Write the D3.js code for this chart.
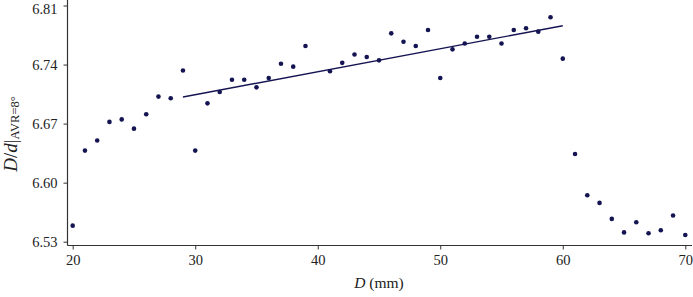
<!DOCTYPE html>
<html><head><meta charset="utf-8">
<script src="https://cdn.jsdelivr.net/npm/d3@7"></script>
<style>
body{margin:0;background:#fff;}
svg text{font-family:"Liberation Serif","Times New Roman",serif;fill:#222;}
</style></head>
<body>
<svg id="c" width="693" height="297"></svg>
<script>
const xValues = [20,21,22,23,24,25,26,27,28,29,30,31,32,33,34,35,36,37,38,39,41,42,43,44,45,46,47,48,49,50,51,52,53,54,55,56,57,58,59,60,61,62,63,64,65,66,67,68,69,70];
const yValues = [6.549,6.638,6.650,6.672,6.675,6.664,6.681,6.702,6.700,6.733,6.638,6.694,6.7075,6.722,6.722,6.713,6.724,6.741,6.7375,6.762,6.732,6.742,6.752,6.749,6.745,6.777,6.767,6.762,6.781,6.724,6.758,6.765,6.773,6.773,6.765,6.781,6.783,6.779,6.796,6.747,6.634,6.585,6.576,6.557,6.541,6.553,6.540,6.5435,6.561,6.538];
const fitX = [29, 60];
const fitY = [6.7015, 6.786];
const xTicks = [20,30,40,50,60,70];
const yTicks = [6.53,6.60,6.67,6.74,6.81];

const svg = d3.select("#c");
const x = d3.scaleLinear().domain([20,70]).range([72.7,685.3]);
const y = d3.scaleLinear().domain([6.53,6.81]).range([241.7,5.5]);
const axX0 = 67.5, axY0 = 245.5;
const col = "#141452";

// axes
const gy = svg.append("g").attr("transform",`translate(${axX0},0)`)
  .call(d3.axisLeft(y).tickValues(yTicks).tickFormat(d3.format(".2f")).tickSize(4).tickPadding(6));
gy.select(".domain").remove();
gy.selectAll(".tick").filter(d=>d===6.81).select("text").attr("dy","0.55em");
const gx = svg.append("g").attr("transform",`translate(0,${axY0})`)
  .call(d3.axisBottom(x).tickValues(xTicks).tickFormat(d3.format("d")).tickSize(4).tickPadding(5));
gx.select(".domain").remove();
[gx,gy].forEach(g=>{
  g.selectAll("text").style("font-size","14.5px").style("fill","#222").style("font-family","'Liberation Serif',serif");
  g.selectAll("line").attr("stroke","#333");
});
svg.append("line").attr("x1",axX0).attr("x2",axX0).attr("y1",0).attr("y2",axY0).attr("stroke","#333").attr("stroke-width",1.2);
svg.append("line").attr("x1",axX0).attr("x2",692).attr("y1",axY0).attr("y2",axY0).attr("stroke","#333").attr("stroke-width",1.2);

// fit line
svg.append("line").attr("x1",x(fitX[0])).attr("y1",y(fitY[0])).attr("x2",x(fitX[1])).attr("y2",y(fitY[1]))
  .attr("stroke",col).attr("stroke-width",1.4);

// points
svg.append("g").selectAll("circle").data(xValues.map((d,i)=>[d,yValues[i]])).join("circle")
  .attr("cx",d=>x(d[0])).attr("cy",d=>y(d[1])).attr("r",2.3).attr("fill",col);

// x label
const xl = svg.append("text").attr("x",379).attr("y",288).attr("text-anchor","middle").style("font-size","15.5px");
xl.append("tspan").style("font-style","italic").text("D");
xl.append("tspan").text(" (mm)");

// y label
const yl = svg.append("text").attr("transform","translate(17,134) rotate(-90)").attr("text-anchor","middle").style("font-size","19px");
yl.append("tspan").style("font-style","italic").text("D");
yl.append("tspan").text("/");
yl.append("tspan").style("font-style","italic").text("d");
yl.append("tspan").text("|");
yl.append("tspan").attr("dy",2).style("font-size","12.5px").text("AVR=8°");
</script>
</body></html>
